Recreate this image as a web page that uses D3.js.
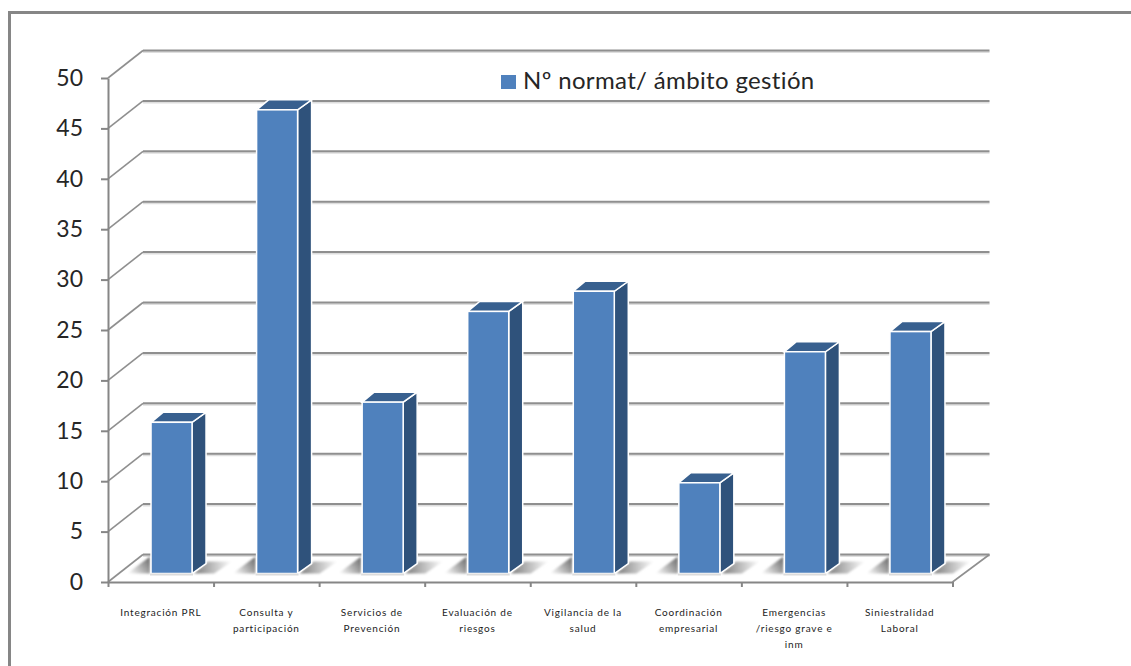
<!DOCTYPE html>
<html lang="es">
<head>
<meta charset="utf-8">
<title>Nº normat/ ámbito gestión</title>
<script src="https://cdn.jsdelivr.net/npm/d3@7"></script>
<style>
  html, body { margin: 0; padding: 0; background: #fff; }
  svg { display: block; font-family: Lato, "Open Sans", sans-serif; }
  .domain, .tick line { stroke: #868686; stroke-width: 2; }
</style>
</head>
<body>
<svg id="chart" width="1131" height="666"></svg>
<script>
// Chart content
const categories = [
  "Integración PRL", "Consulta y participación", "Servicios de Prevención",
  "Evaluación de riesgos", "Vigilancia de la salud", "Coordinación empresarial",
  "Emergencias /riesgo grave e inm", "Siniestralidad Laboral"
];
const categoryLines = [
  ["Integración PRL"], ["Consulta  y", "participación"], ["Servicios de", "Prevención"],
  ["Evaluación de", "riesgos"], ["Vigilancia  de la", "salud"], ["Coordinación", "empresarial"],
  ["Emergencias", "/riesgo grave e", "inm"], ["Siniestralidad", "Laboral"]
];
const values = [15, 46, 17, 26, 28, 9, 22, 24];
const yTicks = [0, 5, 10, 15, 20, 25, 30, 35, 40, 45, 50];
const seriesName = "Nº normat/ ámbito gestión";

// Oblique projection of the 3D chart box
const wall = { dx: 35, dy: -27.5 };
const barPlane = { dx: 10, dy: -8.5 };
const barDepth = { dx: 14, dy: -10 };
const barWidth = 41;

const svg = d3.select("#chart");
const y = d3.scaleLinear().domain([0, 50]).range([582, 78]);
const x = d3.scaleBand().domain(categories).range([108, 952.5]);
const defs = svg.append("defs");

// Floor shadow fades
const fade = (id, x1, y1, x2, y2, from) => {
  const g = defs.append("linearGradient").attr("id", id)
    .attr("x1", x1).attr("y1", y1).attr("x2", x2).attr("y2", y2);
  g.append("stop").attr("offset", 0).attr("stop-color", from);
  g.append("stop").attr("offset", 1).attr("stop-color", "#fff");
};
fade("shadowRight", 0, 0.5, 1, 0.5, "#7d7d7d");
fade("shadowLeft", 1, 0.35, 0, 0.9, "#7a7a7a");
defs.append("filter").attr("id", "soften")
  .attr("x", "-30%").attr("y", "-30%").attr("width", "160%").attr("height", "160%")
  .append("feGaussianBlur").attr("stdDeviation", 1.2);

// Outer frame: top and left rules only
svg.append("path")
  .attr("d", "M9.5,666V12.5H1131")
  .attr("fill", "none").attr("stroke", "#868686").attr("stroke-width", 3);

// Back-wall gridlines and their diagonals down to the axis
const grid = svg.append("g").selectAll("g").data(yTicks).join("g");
const wallX0 = x.range()[0] + wall.dx, wallX1 = x.range()[1] + wall.dx + 2;
grid.append("line")
  .attr("x1", wallX0).attr("x2", wallX1)
  .attr("y1", d => y(d) + wall.dy + 1.5).attr("y2", d => y(d) + wall.dy + 1.5)
  .attr("stroke", "#dedede").attr("stroke-width", 2);
grid.append("line")
  .attr("x1", wallX0).attr("x2", wallX1)
  .attr("y1", d => y(d) + wall.dy).attr("y2", d => y(d) + wall.dy)
  .attr("stroke", "#8f8f8f").attr("stroke-width", 2);
grid.append("line")
  .attr("x1", x.range()[0]).attr("x2", wallX0)
  .attr("y1", d => y(d)).attr("y2", d => y(d) + wall.dy)
  .attr("stroke", "#8f8f8f").attr("stroke-width", 1.6);
svg.append("line")
  .attr("x1", x.range()[1]).attr("x2", wallX1)
  .attr("y1", y(0)).attr("y2", y(0) + wall.dy)
  .attr("stroke", "#8f8f8f").attr("stroke-width", 1.6);

// Bars: floor shadows first, then side, top and front faces
const barLeft = d => x(d) + barPlane.dx + (x.bandwidth() - 105.5) / 2 + 33;
const baseY = y(0) + barPlane.dy;
const topY = v => y(v) + barPlane.dy;
const bars = svg.append("g").selectAll("g")
  .data(categories.map((c, i) => ({ c, v: values[i] }))).join("g");

bars.append("path")
  .attr("fill", "url(#shadowRight)").attr("filter", "url(#soften)")
  .attr("d", d => {
    const l = barLeft(d.c) + barWidth;
    return `M${l + 2},${baseY}L${l + 16},${baseY - 12}H${l + 40}L${l + 22},${baseY}Z`;
  });
bars.append("path")
  .attr("fill", "url(#shadowLeft)").attr("filter", "url(#soften)")
  .attr("d", d => {
    const l = barLeft(d.c);
    return `M${l - 24},${baseY}L${l - 1},${baseY - 17}V${baseY}Z`;
  });
bars.append("path")
  .attr("fill", "#2f527b").attr("stroke", "#fff").attr("stroke-width", 1.5)
  .attr("d", d => {
    const r = barLeft(d.c) + barWidth;
    return `M${r},${topY(d.v)}L${r + barDepth.dx},${topY(d.v) + barDepth.dy}` +
      `V${baseY + barDepth.dy}L${r},${baseY}Z`;
  });
bars.append("path")
  .attr("fill", "#38608f").attr("stroke", "#fff").attr("stroke-width", 1.5)
  .attr("d", d => {
    const l = barLeft(d.c);
    return `M${l},${topY(d.v)}L${l + barDepth.dx - 2},${topY(d.v) + barDepth.dy}` +
      `H${l + barWidth + barDepth.dx}L${l + barWidth},${topY(d.v)}Z`;
  });
bars.append("rect")
  .attr("x", d => barLeft(d.c)).attr("width", barWidth)
  .attr("y", d => topY(d.v)).attr("height", d => baseY - topY(d.v))
  .attr("fill", "#4f81bd").attr("stroke", "#fff").attr("stroke-width", 1.5);
bars.append("line")
  .attr("x1", d => barLeft(d.c) - 1).attr("x2", d => barLeft(d.c) + barWidth + 1)
  .attr("y1", baseY + 1).attr("y2", baseY + 1)
  .attr("stroke", "#dcdcdc").attr("stroke-width", 2);

// Value axis
const yAxis = svg.append("g").attr("transform", "translate(108,0)")
  .call(d3.axisLeft(y).tickValues(yTicks).tickSize(7).tickPadding(18).tickSizeOuter(0));
yAxis.selectAll("text").attr("font-size", 23).attr("fill", "#262626")
  .style("font-family", "Lato, sans-serif");

// Category axis: ticks on band edges, wrapped labels beneath
const xEdges = d3.scaleLinear().domain([0, categories.length]).range(x.range());
const xAxis = svg.append("g").attr("transform", `translate(0,${y(0)})`)
  .call(d3.axisBottom(xEdges).tickValues(d3.range(categories.length + 1))
    .tickSize(5).tickSizeOuter(0).tickFormat(""));
const labels = svg.append("g").attr("font-size", 10).attr("fill", "#1c1c1c")
  .attr("text-anchor", "middle").attr("letter-spacing", 0.8)
  .selectAll("text").data(categories).join("text")
  .attr("transform", (d, i) => `translate(${x(d) + x.bandwidth() / 2},616)`);
labels.selectAll("tspan").data((d, i) => categoryLines[i]).join("tspan")
  .attr("x", 0).attr("y", (d, i) => i * 16).text(d => d);

// Legend
const legend = svg.append("g");
legend.append("rect").attr("x", 501).attr("y", 75).attr("width", 15).attr("height", 14)
  .attr("fill", "#4f81bd");
legend.append("text").attr("x", 523).attr("y", 89).attr("font-size", 24)
  .attr("letter-spacing", 0.35).attr("fill", "#262626").text(seriesName);
</script>
</body>
</html>
